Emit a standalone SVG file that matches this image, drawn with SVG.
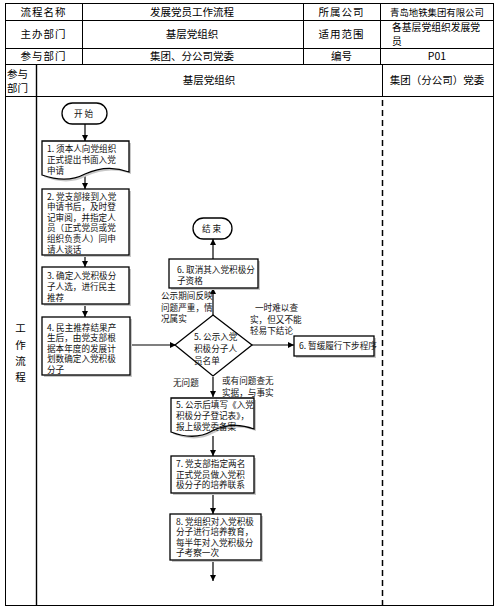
<svg xmlns="http://www.w3.org/2000/svg" width="498" height="609" viewBox="0 0 498 609">
<defs>
<style>
.hd{font-family:"Noto Sans CJK SC","Noto Sans CJK JP",sans-serif;font-size:10.5px;fill:#000;}
.t{font-family:"Noto Sans CJK SC","Noto Sans CJK JP",sans-serif;font-size:8.6px;fill:#111;}
.tl{stroke:#000;stroke-width:1;fill:none;}
.bx{fill:#fff;stroke:#000;stroke-width:1.3;}
.sh{fill:#c8c8c8;stroke:none;}
.cn{stroke:#000;stroke-width:1.2;fill:none;}
</style>
<marker id="ah" viewBox="0 0 10 10" refX="10" refY="5" markerWidth="6" markerHeight="6" markerUnits="userSpaceOnUse" orient="auto">
<path d="M0,0 L10,5 L0,10 Z" fill="#000"/>
</marker>
</defs>
<rect x="0" y="0" width="498" height="609" fill="#fff"/>

<g id="table">
<rect class="tl" x="5.5" y="3.5" width="488" height="602"/>
<line class="tl" x1="5" y1="20.5" x2="494" y2="20.5"/>
<line class="tl" x1="5" y1="48.5" x2="494" y2="48.5"/>
<line class="tl" x1="5" y1="64.5" x2="494" y2="64.5"/>
<line class="tl" x1="5" y1="96.5" x2="494" y2="96.5"/>
<line class="tl" x1="82.5" y1="3" x2="82.5" y2="64"/>
<line class="tl" x1="303.5" y1="3" x2="303.5" y2="64"/>
<line class="tl" x1="380.5" y1="3" x2="380.5" y2="64"/>
<line class="tl" x1="36.5" y1="64" x2="36.5" y2="606" style="stroke-width:1.4"/>
<line class="tl" x1="382.5" y1="64" x2="382.5" y2="96"/>
<line x1="382.5" y1="100" x2="382.5" y2="606" stroke="#000" stroke-width="1.5" stroke-dasharray="6,4"/>
<text class="hd" x="43.5" y="16" text-anchor="middle" letter-spacing="1">流程名称</text>
<text class="hd" x="192" y="16" text-anchor="middle">发展党员工作流程</text>
<text class="hd" x="341.5" y="16" text-anchor="middle" letter-spacing="1">所属公司</text>
<text class="hd" x="437" y="16" text-anchor="middle" style="font-size:9.4px">青岛地铁集团有限公司</text>
<text class="hd" x="43.5" y="38" text-anchor="middle" letter-spacing="1">主办部门</text>
<text class="hd" x="192" y="38" text-anchor="middle">基层党组织</text>
<text class="hd" x="341.5" y="38" text-anchor="middle" letter-spacing="1">适用范围</text>
<text class="hd" style="font-size:9.8px"><tspan x="392" y="31">各基层党组织发展党</tspan><tspan x="392" y="45">员</tspan></text>
<text class="hd" x="43.5" y="60" text-anchor="middle" letter-spacing="1">参与部门</text>
<text class="hd" x="192" y="60" text-anchor="middle">集团、分公司党委</text>
<text class="hd" x="341.5" y="60" text-anchor="middle">编号</text>
<text class="hd" x="437" y="60" text-anchor="middle">P01</text>
<text class="hd"><tspan x="7" y="78">参与</tspan><tspan x="7" y="92">部门</tspan></text>
<text class="hd" x="209" y="84" text-anchor="middle">基层党组织</text>
<text class="hd" x="437" y="84" text-anchor="middle">集团（分公司）党委</text>
<text class="hd" text-anchor="middle"><tspan x="20.5" y="332">工</tspan><tspan x="20.5" y="349">作</tspan><tspan x="20.5" y="365">流</tspan><tspan x="20.5" y="381">程</tspan></text>
</g>

<g id="connectors">
<line class="cn" x1="85" y1="124" x2="85" y2="141" marker-end="url(#ah)"/>
<line class="cn" x1="85" y1="176" x2="85" y2="189" marker-end="url(#ah)"/>
<line class="cn" x1="85" y1="255" x2="85" y2="267" marker-end="url(#ah)"/>
<line class="cn" x1="85" y1="305" x2="85" y2="317" marker-end="url(#ah)"/>
<line class="cn" x1="130" y1="345" x2="176" y2="345" marker-end="url(#ah)"/>
<line class="cn" x1="213" y1="315" x2="213" y2="288" marker-end="url(#ah)"/>
<line class="cn" x1="213" y1="259" x2="213" y2="239" marker-end="url(#ah)"/>
<line class="cn" x1="252" y1="345" x2="294" y2="345" marker-end="url(#ah)"/>
<line class="cn" x1="213" y1="377" x2="213" y2="397" marker-end="url(#ah)"/>
<line class="cn" x1="213" y1="436" x2="213" y2="456" marker-end="url(#ah)"/>
<line class="cn" x1="213" y1="493" x2="213" y2="514" marker-end="url(#ah)"/>
<line class="cn" x1="213" y1="560" x2="213" y2="581" marker-end="url(#ah)"/>
<text class="t"><tspan x="161" y="299">公示期间反映</tspan><tspan x="161" y="310.5">问题严重，情</tspan><tspan x="161" y="322">况属实</tspan></text>
<text class="t"><tspan x="255" y="311">一时难以查</tspan><tspan x="250" y="322.5">实，但又不能</tspan><tspan x="250" y="334">轻易下结论</tspan></text>
<text class="t" x="173" y="386">无问题</text>
<text class="t"><tspan x="222" y="384">或有问题查无</tspan><tspan x="222" y="395.5">实据，与事实</tspan></text>
</g>

<g id="start">
<rect class="bx" x="62" y="103" width="45" height="21" rx="10.5"/>
<text class="t" x="84.5" y="117" text-anchor="middle" letter-spacing="2">开始</text>
</g>

<g id="n1">
<path class="sh" d="M44,143 H131 V174 C115,168 100,170 87,176 C72,184 58,182 44,177 Z"/>
<path class="bx" d="M42,141 H129 V172 C113,166 98,168 85,174 C70,182 56,180 42,175 Z"/>
<text class="t"><tspan x="47" y="152">1. 须本人向党组织</tspan><tspan x="47" y="163">正式提出书面入党</tspan><tspan x="47" y="174">申请</tspan></text>
</g>

<g id="n2">
<rect class="sh" x="44" y="191" width="87" height="66"/>
<rect class="bx" x="42" y="189" width="87" height="66"/>
<text class="t"><tspan x="47" y="199.5">2. 党支部接到入党</tspan><tspan x="47" y="210.1">申请书后，及时登</tspan><tspan x="47" y="220.7">记审阅，并指定人</tspan><tspan x="47" y="231.3">员（正式党员或党</tspan><tspan x="47" y="241.9">组织负责人）同申</tspan><tspan x="47" y="252.5">请人谈话</tspan></text>
</g>

<g id="n3">
<rect class="sh" x="44" y="269" width="87" height="37"/>
<rect class="bx" x="42" y="267" width="87" height="37"/>
<text class="t"><tspan x="47" y="279">3. 确定入党积极分</tspan><tspan x="47" y="290">子人选，进行民主</tspan><tspan x="47" y="301">推荐</tspan></text>
</g>

<g id="n4">
<rect class="sh" x="44" y="319" width="88" height="58"/>
<rect class="bx" x="42" y="317" width="88" height="58"/>
<text class="t"><tspan x="47" y="330.5">4. 民主推荐结果产</tspan><tspan x="47" y="341.1">生后，由党支部根</tspan><tspan x="47" y="351.7">据本年度的发展计</tspan><tspan x="47" y="362.3">划数确定入党积极</tspan><tspan x="47" y="372.9">分子</tspan></text>
</g>

<g id="n5">
<path class="bx" d="M213,315 L252,345 L213,376 L175,345 Z"/>
<text class="t"><tspan x="194" y="340">5. 公示入党</tspan><tspan x="194" y="352">积极分子人</tspan><tspan x="194" y="364">员名单</tspan></text>
</g>

<g id="n6a">
<rect class="sh" x="171" y="261" width="89" height="29"/>
<rect class="bx" x="169" y="259" width="89" height="29"/>
<text class="t"><tspan x="177" y="273">6. 取消其入党积极分</tspan><tspan x="177" y="284">子资格</tspan></text>
</g>

<g id="end">
<rect class="bx" x="193" y="218" width="39" height="21" rx="10.5"/>
<text class="t" x="212.5" y="232" text-anchor="middle" letter-spacing="2">结束</text>
</g>

<g id="n6b">
<rect class="sh" x="296" y="338" width="80" height="20"/>
<rect class="bx" x="294" y="336" width="80" height="20"/>
<text class="t" x="299" y="349">6. 暂缓履行下步程序</text>
</g>

<g id="n5b">
<path class="sh" d="M173,400 H256 V431 C240,425 226,427 214,433 C200,441 186,439 173,434 Z"/>
<path class="bx" d="M171,398 H254 V429 C238,423 224,425 212,431 C198,439 184,437 171,432 Z"/>
<text class="t"><tspan x="176" y="408">5. 公示后填写《入党</tspan><tspan x="176" y="419">积极分子登记表》，</tspan><tspan x="176" y="430">报上级党委备案</tspan></text>
</g>

<g id="n7">
<rect class="sh" x="173" y="458" width="83" height="37"/>
<rect class="bx" x="171" y="456" width="83" height="37"/>
<text class="t"><tspan x="176" y="467">7. 党支部指定两名</tspan><tspan x="176" y="477.6">正式党员做入党积</tspan><tspan x="176" y="488.2">极分子的培养联系</tspan></text>
</g>

<g id="n8">
<rect class="sh" x="172" y="516" width="91" height="46"/>
<rect class="bx" x="170" y="514" width="91" height="46"/>
<text class="t"><tspan x="176" y="524.5">8. 党组织对入党积极</tspan><tspan x="176" y="535.1">分子进行培养教育，</tspan><tspan x="176" y="545.7">每半年对入党积极分</tspan><tspan x="176" y="556.3">子考察一次</tspan></text>
</g>
</svg>
